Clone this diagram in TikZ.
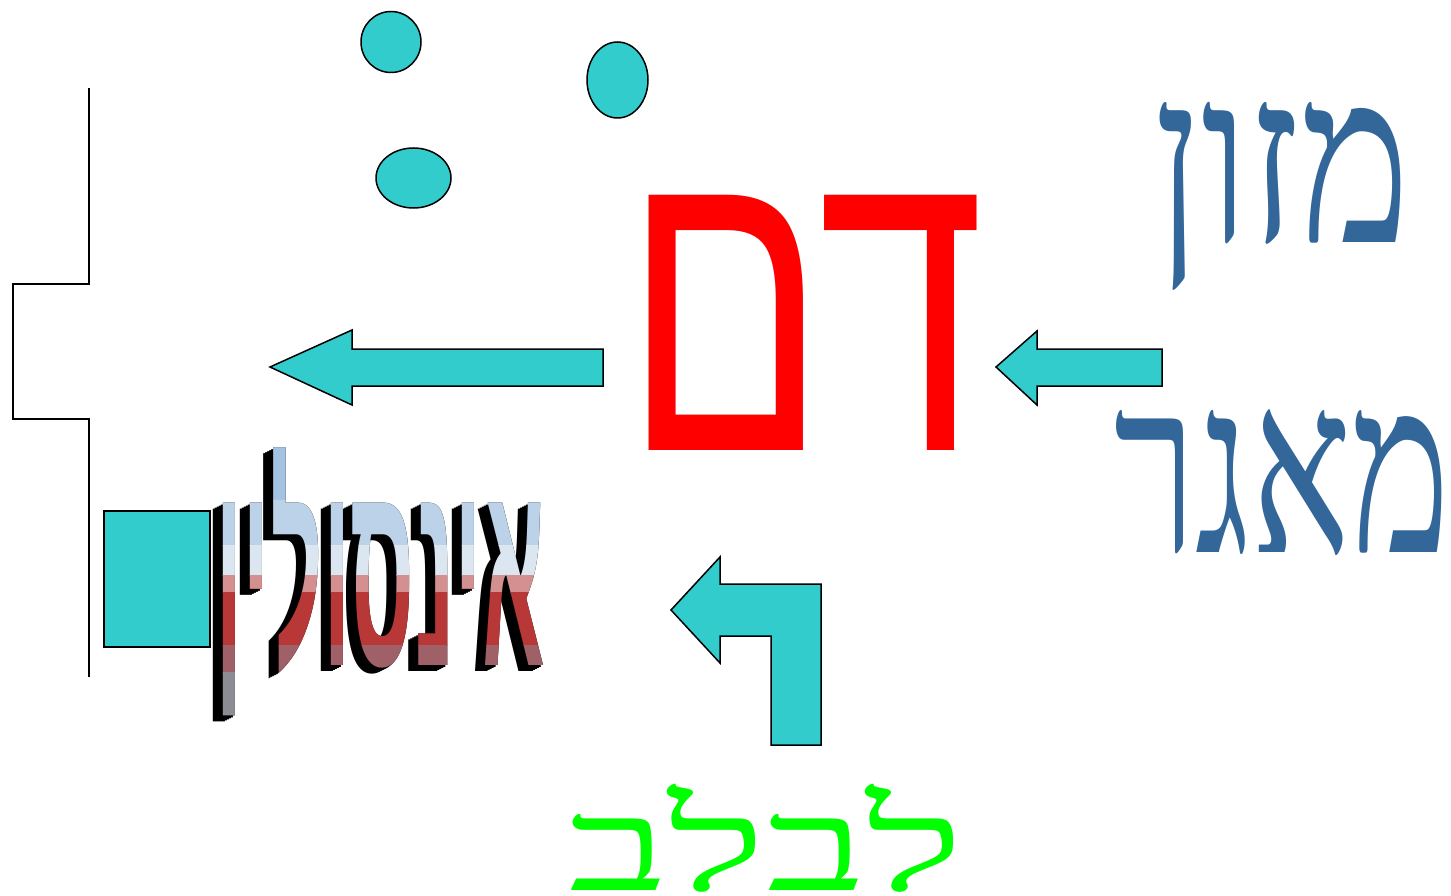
\documentclass[tikz,border=0pt]{standalone}
\usepackage{fontspec}
\TeXXeTstate=1
\newfontfamily\hebsans[Script=Hebrew]{Liberation Sans}
\newfontfamily\hebsansb[Script=Hebrew]{Liberation Sans Bold}
\newfontfamily\hebserif[Script=Hebrew]{Liberation Serif}
\definecolor{tealfill}{HTML}{33CCCC}
\definecolor{hblue}{HTML}{336699}
\definecolor{hgreen}{HTML}{00FF00}
\definecolor{hred}{HTML}{FF0000}
\newcommand{\insulinword}{\resizebox*{330pt}{268pt}{\hebsansb\beginR אינסולין\endR}}
\begin{document}
\begin{tikzpicture}[x=1pt,y=-1pt,
  shapeteal/.style={fill=tealfill,draw=black,line width=1.5pt,line join=miter},
  txt/.style={inner sep=0pt,outer sep=0pt}]
\useasboundingbox (0,0) rectangle (1451,896);
% blobs
\draw[shapeteal] (391,42) ellipse [x radius=30, y radius=30.5];
\draw[shapeteal] (617.5,80) ellipse [x radius=30.5, y radius=38];
\draw[shapeteal] (413.5,178) ellipse [x radius=37.5, y radius=30];
% bracket line
\draw[line width=1.8pt] (89,88) -- (89,284) -- (13,284) -- (13,419) -- (89,419) -- (89,677);
% insulin word art: extrusion
\foreach \d in {0,2,...,10}{
  \node[txt,anchor=north west,text=black] at (215-\d,448+0.6*\d) {\insulinword};
}
% gradient front in bands
\foreach \ya/\yb/\c in {440/500/A4C3E2,500/545/BBD2E9,545/575/DCE6F0,575/592/D49090,592/645/B83838,645/672/A06068,672/725/8C8C94}{
  \definecolor{bandc}{HTML}{\c}
  \begin{scope}
    \clip (190,\ya) rectangle (560,\yb);
    \node[txt,anchor=north west,text=bandc] at (215,448) {\insulinword};
  \end{scope}
}
% square
\draw[shapeteal] (104,511) rectangle (210,647);
% arrows
\draw[shapeteal] (603,349) -- (603,386) -- (352,386) -- (352,405) -- (270,367) -- (352,330) -- (352,349) -- cycle;
\draw[shapeteal] (1162,349) -- (1162,386) -- (1037,386) -- (1037,405) -- (996,367) -- (1037,331) -- (1037,349) -- cycle;
\draw[shapeteal] (821,584) -- (821,745) -- (771,745) -- (771,636) -- (720,636) -- (720,663) -- (671,610) -- (720,557) -- (720,584) -- cycle;
% texts
\node[txt,anchor=north west,text=hred] (dam) at (623,195) {\resizebox{361pt}{255pt}{\hebsans\beginR דם\endR}};
\node[txt,anchor=north west,text=hblue] (mazon) at (1154,102) {\resizebox*{256pt}{188pt}{\hebserif\beginR מזון\endR}};
\node[txt,anchor=north west,text=hblue] (maagar) at (1114,410) {\resizebox*{336pt}{146pt}{\hebserif\beginR מאגר\endR}};
\node[txt,anchor=north west,text=hgreen] (lavlav) at (568,784) {\resizebox*{396pt}{108pt}{\hebserif\beginR לבלב\endR}};
\end{tikzpicture}
\end{document}
